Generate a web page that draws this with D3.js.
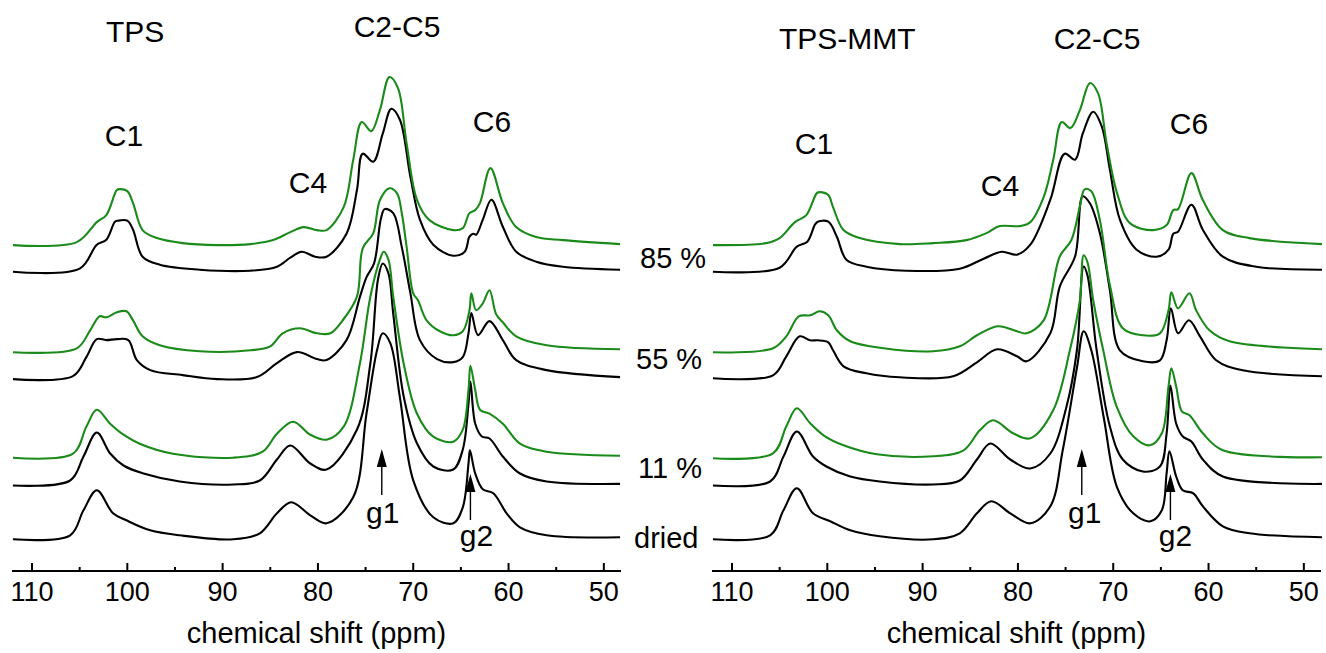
<!DOCTYPE html>
<html>
<head>
<meta charset="utf-8">
<script src="https://cdn.jsdelivr.net/npm/d3@7"></script>
<style>
  body { margin: 0; background: #fff; }
  svg text { font-family: "Liberation Sans", Arial, sans-serif; fill: #000; }
</style>
</head>
<body>
<svg id="chart" width="1326" height="653"></svg>
<script>
// chemical shift ticks (ppm)
const majorTicks = [110, 100, 90, 80, 70, 60, 50];
const minorTicks = [105, 95, 85, 75, 65, 55];
const ppmDomain = [112.1, 48.2];

// stacking offsets (a.u.) for each humidity / sample trace
const traceKeys = ["dried", "k11", "g11", "k55", "g55", "k85", "g85"];
const offsetsTPS = { dried: 0, k11: 26.9, g11: 40.8, k55: 80.1, g55: 93.5, k85: 133.8, g85: 147.1 };
const offsetsMMT = { dried: 0, k11: 26.9, g11: 40.5, k55: 80.5, g55: 93.5, k85: 133.8, g85: 147.1 };

// ---- TPS spectra: [ppm, intensity a.u.] ----
const tpsDried = [[112,0],[106,2],[104.6,14.5],[103.2,24.5],[101.5,13],[100.1,9.5],[97.6,4.5],[94.5,2],[88.9,0],[86.1,3],[84.3,13],[82.8,18.5],[80.8,12],[79.1,8],[76.3,21],[74.9,63],[73.8,94.5],[73.2,103],[72.4,98],[71.4,71],[70,29.5],[67.9,11],[65.8,8],[64.8,16],[64.2,38],[64.05,44.5],[63.5,33],[62.7,25],[61.6,23],[60.2,13],[58.8,6],[56,2],[48.3,1]];
const tpsK11 = [[112,0],[106,2.5],[104.6,14.5],[103.2,26.5],[101.8,16],[100.4,10],[98.3,6],[94.5,2],[88.9,0.5],[86.1,2.5],[84.3,13],[82.9,20],[80.8,11],[79.1,8],[75.9,28],[74.5,61],[73.7,103],[73.2,111],[72.6,106],[72.1,86],[71,44.5],[69.6,21],[67.9,9.5],[65.8,8],[64.8,18],[64.2,41],[64,52],[63.5,31],[62.8,24.5],[62,23.5],[60.6,14.5],[58.8,6],[56,2],[48.3,0.8]];
const tpsG11 = [[112,0],[105.7,2],[104.3,15.5],[103.2,24],[101.8,17],[100.4,11.5],[98.7,7],[95.2,2],[88.9,0],[85.8,3],[84.3,12],[82.6,18],[80.8,11.5],[79.1,9],[77.3,15.5],[75.6,47],[74.5,80.5],[73.5,99],[73.1,103],[72.6,99],[72.1,80.5],[71,47],[69.6,22],[67.9,10.5],[65.8,8],[64.8,14],[64.2,34],[64,46],[63.5,34],[63,24],[62,22],[60.6,17],[58.8,7],[56,3],[48.3,1]];
const tpsK55 = [[112,0],[105.7,1.5],[104.3,11],[103.2,20],[102.2,19.5],[101.1,20],[99.9,19.5],[99,9.5],[97.6,4.5],[94.2,2],[90.6,0],[86.4,1],[84.3,8],[82.2,13.5],[80.1,10],[79.1,9.5],[77,19.5],[75.6,41],[74.9,51],[74.1,58],[73.4,80],[73,85],[72.1,83],[71.2,66],[70.3,43],[69.3,19.5],[67.5,10],[65.8,8.5],[64.8,11],[64.2,23],[63.9,33],[63.2,22],[62,29],[60.6,19.5],[59.2,9.5],[56,4.5],[48.3,1]];
const tpsG55 = [[112,0],[105.3,2],[103.9,11],[102.9,18],[102.2,17.5],[101.1,20],[100.1,20.5],[99.4,16],[98.4,8],[96.6,3.5],[92.4,0.5],[87.1,1],[85,3],[83.7,9.5],[81.9,12],[80.1,9.5],[78.7,9.5],[77.4,16],[75.9,28],[75.3,52],[74.2,59.5],[73.5,76],[72.5,82],[71.7,79.5],[71.2,69.5],[70.7,53],[70,29.5],[69.5,26],[68.6,16],[67.2,10.5],[65.8,8.5],[64.8,10.5],[64.1,21],[63.9,29.5],[63.4,21],[62.7,24.5],[62,31],[61.3,19],[60.6,15],[59.2,8],[56,3.5],[48.3,1.5]];
const tpsK85 = [[112,0],[105,1.5],[103.2,13.5],[102.2,16],[101.3,25],[101,25.5],[100,25.5],[99.4,21],[98.4,7.5],[96.6,3.5],[92.4,1],[87.1,0.5],[84.3,2.5],[82.9,7],[81.7,10],[80.3,7.5],[79.1,7.5],[77,19],[75.9,41],[75.3,59],[74.2,55],[73.2,69],[72.3,81.5],[71.4,76],[70.3,47.5],[69.3,26],[67.9,13.5],[65.8,8],[64.6,10],[64.1,17.5],[63.7,19],[63.4,18.5],[62.7,26],[61.8,36],[60.6,22.5],[59.2,10],[57.1,5],[54.3,2.5],[48.3,1]];
const tpsG85 = [[112,0],[105.3,1.5],[103.2,11.5],[102.2,15],[101.1,27.5],[100.8,28],[100,27],[99.4,21],[98.4,7.5],[96.9,3.5],[94.2,1],[90.6,0],[87.1,0.5],[84.7,2.5],[82.9,6.5],[81.5,9],[80.1,7.5],[79.1,7.5],[77.3,19],[76.3,42.5],[75.4,61.5],[74.4,57],[73.5,67.5],[72.5,84],[71.6,78.5],[70.7,51],[69.6,22.5],[68.3,12.5],[65.8,7.5],[64.8,8.5],[64.1,16],[63.5,17.5],[63,21],[61.9,38.5],[60.6,21],[59.2,9],[57.1,4],[54.3,2.5],[48.3,0.5]];

// ---- TPS-MMT spectra ----
const mmtDried = [[112,0],[106,2],[104.6,14.5],[103.2,25.5],[101.5,13],[99.7,9],[97.6,4.5],[94.5,1.5],[88.9,0],[86.1,3],[84.3,13],[82.8,19],[80.8,13],[78.7,8],[76.6,16.5],[75.3,44.5],[73.8,86],[73.1,104],[72.3,94.5],[71,61],[69.6,26],[67.9,13],[66.1,9],[64.9,14.5],[64.4,33],[64.1,44],[63.4,31.5],[62.7,24.5],[61.6,23],[60.6,16.5],[58.5,6.5],[55.7,3],[48.1,1]];
const mmtK11 = [[112,0],[106,2],[104.6,14.5],[103.2,27],[101.5,14.5],[100.1,9.5],[97.6,4.5],[94.5,2],[88.9,0.5],[86.1,2.5],[84.3,13],[82.9,21],[80.8,13],[78.7,8.5],[76.6,16],[74.9,39.5],[73.8,68],[73.1,109.5],[72.7,105],[71.75,68],[70.35,29.5],[69,13],[66.9,7],[65.1,9.5],[64.4,26],[64,50],[63.4,31],[62.7,24.5],[61.8,22],[60.6,13],[58.5,4.5],[48.1,0.8]];
const mmtG11 = [[112,0],[105.7,2.5],[104.3,16],[103.2,25],[101.8,17.5],[100.4,11.5],[98.3,6.5],[94.8,2],[88.9,1],[85.7,4],[84,14],[82.6,19],[80.5,12.5],[78.7,10],[76.3,24],[74.55,54],[73.5,79],[73.1,101.5],[72.7,98],[72.1,79],[71.05,54],[69.65,26],[67.9,11],[66.15,6.5],[64.9,12.5],[64.2,36],[63.9,45],[63.4,36],[62.8,23.5],[62,21.5],[60.6,12.5],[58.5,4],[48.1,0.5]];
const mmtK55 = [[112,0],[105.7,1.5],[104.3,11],[102.9,21],[101.8,19],[101,19],[99.9,18],[99.4,14],[98.3,6],[95.9,2.5],[92.4,0.5],[86.8,1],[84.3,8],[82.2,14.5],[80.1,11],[79.1,8.5],[76.6,22.5],[75.6,46],[74,61],[73.2,91],[72.45,87.5],[71.4,72.5],[70.35,44],[69.3,14],[66.9,8.5],[65.1,9],[64.4,19],[63.95,35],[63.2,22.5],[62.06,29],[60.9,21],[59.2,9],[56.4,4],[48.1,1]];
const mmtG55 = [[112,0],[105.7,2],[104.3,8],[103,18],[101.8,18.5],[100.8,20.5],[99.9,18.5],[99,11],[97.6,5.5],[94.1,2],[88.9,0.5],[86.1,3],[84.3,8.5],[82.1,13],[80.1,10.5],[79.1,9.5],[77.3,16],[75.6,48],[74.4,56],[73.5,73],[73,81.5],[72.3,80.5],[71.4,66],[70.35,33.5],[69,12],[66.9,8.5],[65.1,9.5],[64.2,21],[63.9,30],[63.2,22],[62,29.5],[61.3,21],[59.9,11],[57.8,5.5],[48.1,1.5]];
const mmtK85 = [[112,0],[105,2],[103.2,12.5],[102.1,15],[101.3,23.5],[101,25],[99.9,25],[99,17.5],[98,6],[95.9,2.5],[91.7,0.5],[86.1,1.5],[83.6,6.5],[81.7,10],[80.1,8.5],[78.7,13.5],[76.6,36],[75.1,59],[74,56],[73.2,69],[72.1,80],[71.2,72.5],[70.35,51],[69.3,26],[67.55,11],[65.45,7.5],[64.2,11],[63.7,19],[63.2,20],[61.8,33.5],[60.6,21],[58.5,7.5],[55,2.5],[48.1,1]];
const mmtG85 = [[112,0],[106.4,1],[105,3.5],[103.4,11.5],[102.2,15],[101.1,26],[100.8,26.5],[99.9,25],[99.4,19],[98.3,7.5],[96.6,3.5],[92.4,0.5],[88.9,1],[85.4,2.5],[83.3,6],[81.9,9.5],[79.8,9.5],[78.7,11.5],[77.3,24],[76.3,42.5],[75.4,61.5],[74.5,58.5],[73.5,67.5],[72.45,81],[71.6,76],[70.7,51],[69.6,26],[68.25,11],[65.8,7.5],[64.4,10],[63.7,17.5],[63.2,18],[61.8,36],[60.6,22.5],[58.5,7.5],[55.7,3.5],[48.1,0.5]];

const panels = [
  { title: "TPS", x0: 12, x1: 621, offsets: offsetsTPS,
    traces: { dried: tpsDried, k11: tpsK11, g11: tpsG11, k55: tpsK55, g55: tpsG55, k85: tpsK85, g85: tpsG85 },
    titlePos: [106, 42], c25: [397, 37], c1: [124, 146], c4: [308, 193], c6: [492, 132], g1dx: 1, g2dx: 6 },
  { title: "TPS-MMT", x0: 712, x1: 1321, offsets: offsetsMMT,
    traces: { dried: mmtDried, k11: mmtK11, g11: mmtG11, k55: mmtK55, g55: mmtG55, k85: mmtK85, g85: mmtG85 },
    titlePos: [779, 49], c25: [1097, 49], c1: [814, 154], c4: [1000, 196], c6: [1189, 134], g1dx: 3, g2dx: 5 }
];

const humidityLabels = ["85 %", "55 %", "11 %", "dried"];
const humidityPos = [[640, 268], [636, 369], [638, 478], [634, 548]];
const g1ppm = 73.3, g2ppm = 64.0;

const GREEN = "#1a8a1a";
const svg = d3.select("#chart");
const y = d3.scaleLinear().domain([0, 260]).range([539.3, 19.3]);
const axisY = 571;

panels.forEach(p => {
  const x = d3.scaleLinear().domain(ppmDomain).range([p.x0, p.x1]);
  const g = svg.append("g");

  const line = off => d3.line()
    .x(d => x(d[0]))
    .y(d => y(d[1] + off))
    .curve(d3.curveCatmullRom.alpha(0.5));

  traceKeys.forEach(k => {
    g.append("path")
      .datum(p.traces[k])
      .attr("fill", "none")
      .attr("stroke", k[0] === "g" ? GREEN : "#000")
      .attr("stroke-width", 2.1)
      .attr("stroke-linejoin", "round")
      .attr("d", line(p.offsets[k]));
  });

  // axis
  const ax = g.append("g").attr("transform", `translate(0,${axisY})`);
  ax.append("line").attr("x1", p.x0).attr("x2", p.x1)
    .attr("stroke", "#000").attr("stroke-width", 2);
  ax.selectAll(".maj").data(majorTicks).join("line")
    .attr("x1", d => x(d)).attr("x2", d => x(d))
    .attr("y1", 0).attr("y2", -8)
    .attr("stroke", "#000").attr("stroke-width", 2);
  ax.selectAll(".min").data(minorTicks).join("line")
    .attr("x1", d => x(d)).attr("x2", d => x(d))
    .attr("y1", 0).attr("y2", -4)
    .attr("stroke", "#000").attr("stroke-width", 2);
  ax.selectAll(".lbl").data(majorTicks).join("text")
    .attr("x", d => x(d)).attr("y", 30)
    .attr("text-anchor", "middle")
    .attr("font-size", 27)
    .text(d => d);
  ax.append("text")
    .attr("x", (p.x0 + p.x1) / 2 + 0).attr("y", 72)
    .attr("text-anchor", "middle")
    .attr("font-size", 29)
    .text("chemical shift (ppm)");

  // labels
  g.append("text").attr("x", p.titlePos[0]).attr("y", p.titlePos[1])
    .attr("font-size", 30).text(p.title);
  [["C2-C5", p.c25], ["C1", p.c1], ["C4", p.c4], ["C6", p.c6]].forEach(([t, pos]) => {
    g.append("text").attr("x", pos[0]).attr("y", pos[1])
      .attr("text-anchor", "middle").attr("font-size", 30).text(t);
  });

  // g1 / g2 arrows
  [[g1ppm, 449, 495, "g1", 523, p.g1dx], [g2ppm, 474, 520, "g2", 546, p.g2dx]].forEach(([ppm, top, bot, t, ty, dx]) => {
    const xx = x(ppm);
    g.append("line").attr("x1", xx).attr("x2", xx).attr("y1", top + 10).attr("y2", bot)
      .attr("stroke", "#000").attr("stroke-width", 1.4);
    g.append("path")
      .attr("d", `M${xx},${top} L${xx - 5},${top + 18} L${xx + 5},${top + 18} Z`)
      .attr("fill", "#000");
    g.append("text").attr("x", xx + dx).attr("y", ty)
      .attr("text-anchor", "middle").attr("font-size", 30).text(t);
  });
});

humidityLabels.forEach((t, i) => {
  svg.append("text").attr("x", humidityPos[i][0]).attr("y", humidityPos[i][1])
    .attr("font-size", 29).text(t);
});
</script>
</body>
</html>
